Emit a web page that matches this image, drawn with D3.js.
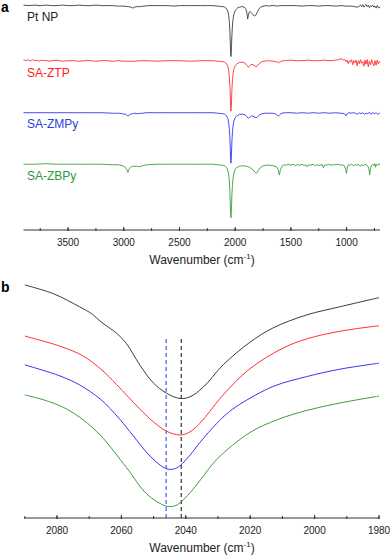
<!DOCTYPE html>
<html>
<head>
<meta charset="utf-8">
<script src="https://cdn.jsdelivr.net/npm/d3@7"></script>
<style>
  body { margin: 0; background: #fff; }
  svg { font-family: "Liberation Sans", Arial, sans-serif; }
</style>
</head>
<body>
<svg id="chart" width="392" height="557"></svg>
<script>
// ---- data: panel a, full FTIR spectra [wavenumber, relative signal] ----
var seriesNames = ["Pt NP", "SA-ZTP", "SA-ZMPy", "SA-ZBPy"];
var seriesColors = ["#3c3c3c", "#ff3030", "#3535f5", "#3a9e3a"];
var labelColors = ["#222222", "#ff2020", "#2a3cdc", "#2a9a3a"];
var stackOffsets = [4.4, 3.32, 2.3, 1.29];
var ticksA = [3500, 3000, 2500, 2000, 1500, 1000];
var ticksB = [2080, 2060, 2040, 2020, 2000, 1980];

var ptnpFull = [
  [3900,0.01],[3850,0.0],[3800,0.01],[3750,0.0],[3700,0.01],[3650,0.0],[3600,0.0],[3550,0.01],[3500,0.0],
  [3450,0.0],[3400,0.01],[3350,0.0],[3300,0.0],[3250,0.01],[3200,0.0],[3150,0.0],[3100,0.0],[3050,-0.01],
  [3000,-0.01],[2960,-0.02],[2935,-0.03],[2920,-0.05],[2905,-0.03],[2880,-0.02],[2850,-0.02],[2820,-0.01],
  [2780,0.0],[2700,0.0],[2650,0.0],[2600,0.0],[2550,-0.01],[2500,0.0],[2450,0.0],[2400,0.0],[2350,0.0],
  [2300,0.0],[2250,0.0],[2200,0.0],[2160,-0.01],[2130,-0.015],[2110,-0.02],[2095,-0.03],[2085,-0.045],
  [2075,-0.07],[2065,-0.12],[2058,-0.2],[2052,-0.33],[2047,-0.52],[2043,-0.78],[2040,-0.95],[2038,-1.0],
  [2036,-0.95],[2033,-0.8],[2029,-0.56],[2024,-0.38],[2018,-0.25],[2010,-0.16],[2000,-0.1],[1990,-0.07],
  [1975,-0.04],[1960,-0.03],[1940,-0.02],[1920,-0.03],[1905,-0.06],[1895,-0.14],[1888,-0.26],[1882,-0.2],
  [1875,-0.13],[1865,-0.12],[1855,-0.14],[1840,-0.18],[1828,-0.2],[1815,-0.19],[1800,-0.12],[1785,-0.06],
  [1770,-0.03],[1750,-0.01],[1720,0.0],[1700,-0.01],[1680,0.0],[1650,0.0],[1620,-0.01],[1600,0.0],
  [1550,0.0],[1500,0.0],[1450,0.0],[1400,-0.01],[1350,0.0],[1300,0.0],[1250,-0.01],[1200,0.0],[1150,0.0],
  [1100,-0.01],[1050,0.0],[1000,-0.01],[950,-0.01],[910,-0.03],[890,-0.02],[875,0.01],[865,-0.02],
  [855,0.02],[845,-0.03],[835,0.0],[825,0.02],[815,-0.02],[805,0.01],[795,-0.04],[785,0.0],[775,-0.02],
  [765,0.01],[755,-0.03],[745,-0.01],[735,-0.05],[725,0.0],[715,-0.04],[705,-0.03],[700,-0.05]
];
var saztpFull = [
  [3900,0.02],[3880,0.0],[3860,0.02],[3840,-0.01],[3820,0.02],[3800,0.0],[3780,0.01],[3760,-0.01],
  [3740,0.01],[3720,0.0],[3700,0.01],[3680,-0.01],[3650,0.0],[3600,0.01],[3550,-0.01],[3500,0.0],
  [3450,0.0],[3400,-0.01],[3350,0.0],[3300,0.0],[3250,-0.01],[3200,0.0],[3150,0.0],[3100,-0.01],
  [3050,0.0],[3000,-0.01],[2950,-0.01],[2900,-0.01],[2850,0.0],[2800,0.0],[2700,-0.01],[2600,0.0],
  [2500,0.0],[2400,-0.01],[2300,0.0],[2200,0.0],[2160,-0.01],[2130,-0.015],[2110,-0.02],[2095,-0.03],
  [2085,-0.045],[2075,-0.07],[2065,-0.12],[2058,-0.2],[2052,-0.33],[2047,-0.51],[2043,-0.77],[2040,-0.94],
  [2038,-0.99],[2036,-0.94],[2033,-0.79],[2029,-0.55],[2024,-0.37],[2018,-0.24],[2010,-0.15],[2000,-0.1],
  [1990,-0.07],[1960,-0.03],[1930,-0.03],[1910,-0.05],[1895,-0.09],[1880,-0.13],[1865,-0.09],[1850,-0.07],
  [1830,-0.09],[1812,-0.12],[1800,-0.1],[1780,-0.05],[1760,-0.02],[1740,-0.01],[1700,0.0],[1660,-0.01],
  [1630,-0.02],[1612,-0.04],[1595,-0.02],[1570,0.0],[1550,0.0],[1500,0.01],[1450,0.0],[1400,0.0],
  [1350,0.01],[1300,0.0],[1250,0.0],[1200,0.01],[1150,0.0],[1100,0.01],[1070,0.02],[1050,0.04],
  [1040,0.03],[1030,0.01],[1015,0.02],[1005,-0.02],[995,0.01],[985,-0.06],[975,0.0],[965,-0.03],
  [955,0.02],[945,-0.08],[935,0.0],[925,-0.04],[915,0.01],[905,-0.1],[895,0.0],[885,-0.06],[875,0.02],
  [865,-0.05],[855,-0.02],[845,-0.11],[835,0.01],[825,-0.07],[815,0.02],[805,-0.12],[795,-0.01],
  [785,-0.08],[775,0.02],[765,-0.05],[755,-0.1],[745,0.0],[735,-0.09],[725,0.01],[715,-0.06],[705,-0.02],
  [700,-0.04]
];
var sazmpyFull = [
  [3900,0.0],[3800,0.0],[3700,0.0],[3600,0.0],[3500,0.0],[3400,0.0],[3300,0.0],[3200,0.0],[3100,-0.01],
  [3050,-0.01],[3010,-0.02],[2985,-0.03],[2970,-0.05],[2962,-0.07],[2955,-0.05],[2940,-0.03],[2920,-0.02],
  [2900,-0.01],[2875,-0.02],[2860,-0.015],[2830,-0.01],[2800,0.0],[2700,0.0],[2600,0.0],[2500,0.0],
  [2400,0.0],[2300,0.0],[2200,0.0],[2160,-0.01],[2130,-0.015],[2110,-0.02],[2095,-0.03],[2085,-0.045],
  [2075,-0.07],[2065,-0.12],[2058,-0.2],[2052,-0.33],[2047,-0.51],[2043,-0.77],[2040,-0.94],[2038,-0.99],
  [2036,-0.94],[2033,-0.79],[2029,-0.55],[2024,-0.37],[2018,-0.24],[2010,-0.15],[2000,-0.1],[1990,-0.07],
  [1960,-0.03],[1930,-0.03],[1910,-0.04],[1895,-0.08],[1880,-0.11],[1865,-0.08],[1850,-0.06],[1830,-0.08],
  [1812,-0.1],[1800,-0.08],[1780,-0.04],[1760,-0.02],[1730,-0.01],[1700,-0.01],[1660,-0.01],[1630,-0.03],
  [1612,-0.07],[1600,-0.04],[1580,-0.01],[1550,0.0],[1500,0.0],[1450,-0.01],[1400,0.0],[1350,-0.01],
  [1300,0.0],[1250,-0.01],[1200,0.0],[1150,-0.01],[1100,0.0],[1050,-0.01],[1020,-0.02],[1005,-0.06],
  [995,-0.02],[980,0.0],[960,-0.01],[940,0.0],[920,-0.01],[900,-0.03],[885,0.0],[870,-0.02],[855,0.0],
  [840,-0.03],[825,-0.01],[810,-0.02],[795,0.01],[780,-0.03],[765,0.0],[750,-0.02],[735,0.0],[720,-0.03],
  [705,-0.01],[700,-0.02]
];
var sazbpyFull = [
  [3900,0.0],[3800,0.0],[3700,0.01],[3600,0.0],[3500,0.0],[3400,0.0],[3300,0.0],[3200,0.0],[3100,-0.01],
  [3050,-0.01],[3010,-0.03],[2990,-0.05],[2975,-0.1],[2963,-0.16],[2955,-0.11],[2940,-0.06],[2920,-0.04],
  [2900,-0.04],[2880,-0.04],[2860,-0.05],[2845,-0.04],[2820,-0.02],[2780,-0.01],[2700,0.0],[2600,0.0],
  [2500,0.0],[2400,0.0],[2300,0.0],[2200,0.0],[2160,-0.01],[2130,-0.016],[2110,-0.02],[2095,-0.03],
  [2085,-0.047],[2075,-0.07],[2065,-0.13],[2058,-0.21],[2052,-0.35],[2047,-0.55],[2043,-0.82],[2040,-1.0],
  [2038,-1.05],[2036,-1.0],[2033,-0.84],[2029,-0.59],[2024,-0.4],[2018,-0.26],[2010,-0.17],[2000,-0.1],
  [1990,-0.07],[1960,-0.04],[1930,-0.03],[1900,-0.04],[1870,-0.06],[1845,-0.1],[1825,-0.15],[1810,-0.18],
  [1795,-0.13],[1775,-0.07],[1750,-0.03],[1720,-0.02],[1690,-0.02],[1660,-0.03],[1630,-0.05],[1615,-0.1],
  [1603,-0.21],[1595,-0.12],[1580,-0.04],[1560,-0.01],[1540,-0.02],[1520,0.0],[1500,-0.02],[1480,0.0],
  [1460,-0.03],[1440,-0.01],[1420,-0.02],[1400,0.0],[1380,-0.03],[1365,-0.01],[1354,-0.05],[1340,-0.01],
  [1320,-0.02],[1300,0.0],[1280,-0.03],[1260,-0.01],[1240,-0.03],[1220,0.0],[1208,-0.07],[1195,-0.01],
  [1180,-0.02],[1160,0.0],[1140,-0.02],[1120,-0.01],[1100,-0.01],[1080,0.0],[1060,-0.02],[1040,-0.01],
  [1020,-0.03],[1008,-0.1],[1001,-0.18],[994,-0.06],[985,-0.01],[970,-0.02],[955,0.0],[940,-0.03],
  [925,-0.01],[910,-0.02],[895,0.0],[880,-0.04],[865,-0.01],[850,-0.03],[835,0.0],[820,-0.02],[808,-0.04],
  [800,-0.09],[792,-0.21],[785,-0.08],[775,-0.02],[765,0.0],[755,-0.03],[745,0.01],[740,-0.06],[732,0.0],
  [720,-0.02],[710,0.01],[700,-0.01]
];

// ---- data: panel b, CO band zoom [wavenumber, offset intensity] ----
var ptnpCO = [
  [2090,97.1],[2081,93.4],[2073,88.0],[2069,84.9],[2066.6,82.0],[2063.5,79.0],[2061.5,77.0],[2058.4,72.6],
  [2054.2,63.6],[2050.1,56.3],[2046,52.0],[2041.8,49.8],[2038.7,50.5],[2034.6,54.5],[2028.4,63.8],
  [2020.1,73.2],[2012.9,79.2],[2002.5,84.6],[1992.2,88.0],[1980,91.8]
];
var saztpCO = [
  [2090,75.8],[2079.1,71.6],[2072,67.6],[2066,61.6],[2061.5,55.6],[2054.2,45.3],[2051.1,41.3],
  [2046.2,36.3],[2041.8,34.6],[2038.7,35.9],[2035.6,39.5],[2032.5,44.5],[2028.4,51.3],[2020.1,62.2],
  [2009.8,70.8],[2002.5,74.6],[1992.2,77.8],[1980,80.1]
];
var sazmpyCO = [
  [2090,63.8],[2079.1,59.2],[2072.9,55.4],[2066.6,49.6],[2063.5,45.6],[2060.4,41.0],[2056.3,34.2],
  [2051.1,25.8],[2046.2,20.6],[2043.8,20.4],[2041.8,21.8],[2038.7,26.2],[2035.6,31.5],[2030.4,39.4],
  [2027.3,43.4],[2023.2,47.4],[2012.9,54.8],[2002.5,58.9],[1992.2,62.0],[1980,64.5]
];
var sazbpyCO = [
  [2090,51.3],[2082.2,48.4],[2077,45.4],[2071.8,40.8],[2066.6,34.6],[2058.4,21.0],[2052.1,10.0],
  [2046.2,5.0],[2043.5,5.0],[2041.8,6.3],[2038.7,10.5],[2035.6,15.6],[2030.4,24.4],[2020.1,35.6],
  [2011.5,41.0],[2002.5,44.8],[1992.2,47.9],[1980,50.8]
];
var markerLines = [[2046.1, "#4d6ee8"], [2041.4, "#444444"]];
var markerTop = 74.6;

var fullSeries = [ptnpFull, saztpFull, sazmpyFull, sazbpyFull];
var coSeries = [ptnpCO, saztpCO, sazmpyCO, sazbpyCO];

var svg = d3.select("#chart");

// ---------- panel a ----------
var xA = d3.scaleLinear().domain([3900, 700]).range([23.5, 380]);
var yA = d3.scaleLinear().domain([0, 4.51]).range([230, 0]);

fullSeries.forEach(function(s, i) {
    var line = d3.line()
        .x(d => xA(d[0]))
        .y(d => yA(d[1] + stackOffsets[i]));
    svg.append("path")
        .datum(s)
        .attr("d", line)
        .attr("fill", "none")
        .attr("stroke", seriesColors[i])
        .attr("stroke-width", 0.9)
        .attr("stroke-linejoin", "round");
});

var labelY = [20.5, 77, 128, 180];
seriesNames.forEach(function(n, i) {
    svg.append("text")
        .attr("x", 27)
        .attr("y", labelY[i])
        .attr("font-size", 12)
        .attr("fill", labelColors[i])
        .text(n);
});

function drawAxis(x, y0, majors, minorStep, domain) {
    var g = svg.append("g").attr("transform", `translate(0, ${y0})`);
    g.append("line")
        .attr("x1", x.range()[0]).attr("x2", x.range()[1])
        .attr("stroke", "#333").attr("stroke-width", 1.2);
    var minors = d3.range(domain[1], domain[0] + 0.001, minorStep);
    g.selectAll(".minor").data(minors).enter().append("line")
        .attr("x1", d => x(d)).attr("x2", d => x(d))
        .attr("y1", -2).attr("y2", 1)
        .attr("stroke", "#333").attr("stroke-width", 1);
    g.selectAll(".major").data(majors).enter().append("line")
        .attr("x1", d => x(d)).attr("x2", d => x(d))
        .attr("y1", -3).attr("y2", 1)
        .attr("stroke", "#333").attr("stroke-width", 1);
    g.selectAll(".lbl").data(majors).enter().append("text")
        .attr("x", d => x(d))
        .attr("y", 16)
        .attr("text-anchor", "middle")
        .attr("font-size", 10)
        .attr("fill", "#222")
        .text(d => d);
    var t = g.append("text")
        .attr("x", 202)
        .attr("y", 34)
        .attr("text-anchor", "middle")
        .attr("font-size", 12)
        .attr("fill", "#222");
    t.append("tspan").text("Wavenumber (cm");
    t.append("tspan").attr("font-size", 8).attr("dy", -5).text("-1");
    t.append("tspan").attr("dy", 5).text(")");
}

drawAxis(xA, 230, ticksA, 250, [3750, 750]);

// ---------- panel b ----------
var xB = d3.scaleLinear().domain([2090, 1980]).range([24.8, 379]);
var yB = d3.scaleLinear().domain([0, 100]).range([518, 278]);

markerLines.forEach(function(m) {
    svg.append("line")
        .attr("x1", xB(m[0])).attr("x2", xB(m[0]))
        .attr("y1", yB(markerTop)).attr("y2", yB(0))
        .attr("stroke", m[1])
        .attr("stroke-width", 1.3)
        .attr("stroke-dasharray", "4,3");
});

coSeries.forEach(function(s, i) {
    var line = d3.line()
        .x(d => xB(d[0]))
        .y(d => yB(d[1]))
        .curve(d3.curveCatmullRom.alpha(0.5));
    svg.append("path")
        .datum(s)
        .attr("d", line)
        .attr("fill", "none")
        .attr("stroke", seriesColors[i])
        .attr("stroke-width", 1);
});

drawAxis(xB, 518, ticksB, 10, [2090, 1980]);

// panel letters
svg.append("text").attr("x", 1).attr("y", 12).attr("font-size", 14)
    .attr("font-weight", "bold").text("a");
svg.append("text").attr("x", 1).attr("y", 292).attr("font-size", 14)
    .attr("font-weight", "bold").text("b");
</script>
</body>
</html>
